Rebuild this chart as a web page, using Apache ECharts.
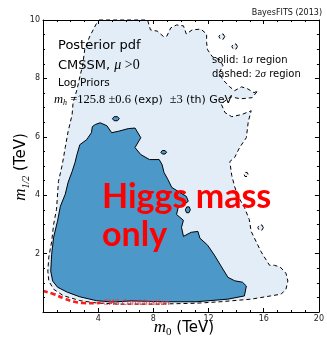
<!DOCTYPE html>
<html>
<head>
<meta charset="utf-8">
<script src="https://cdn.jsdelivr.net/npm/echarts@6/dist/echarts.min.js"></script>
<style>
  html, body { margin: 0; padding: 0; background: #fff; }
  #chart { width: 327px; height: 337px; }
</style>
</head>
<body>
<div id="chart"></div>
<script>
// Axis ranges and tick settings (TeV)
const xRange = [0, 20];
const yRange = [0, 10];
const xTickStep = 4;
const yTickStep = 2;

// 2 sigma credible region boundary, (m0, m1/2) in TeV
const region2sigma = [
  [4.07,10.0],[7.58,10.0],[7.79,9.66],[8.28,9.62],[8.77,9.42],[8.98,9.45],[9.26,9.73],[9.68,9.83],
  [10.18,9.80],[10.39,9.52],[10.81,9.66],[11.44,9.69],[11.86,9.52],[11.86,9.22],[11.93,8.98],
  [12.28,8.74],[12.84,8.63],[13.05,8.43],[12.77,8.19],[13.05,7.95],[13.54,7.71],[13.89,7.58],
  [14.39,7.71],[14.81,7.65],[15.30,7.51],[15.58,7.58],[15.16,7.34],[14.32,7.30],[13.61,7.37],
  [12.91,7.13],[13.19,6.83],[13.68,6.69],[14.39,6.76],[15.09,6.89],[14.88,6.52],[14.74,5.97],
  [14.25,5.63],[13.89,5.29],[13.54,5.15],[13.68,4.68],[13.89,4.30],[14.11,3.99],[14.60,3.58],
  [14.95,3.17],[15.09,2.76],[15.44,2.42],[15.79,2.08],[16.14,1.81],[16.42,1.60],[16.77,1.60],
  [17.19,1.54],[17.61,1.33],[17.75,1.06],[17.61,0.78],[17.26,0.61],[16.49,0.55],[15.09,0.44],
  [12.84,0.35],[11.09,0.30],[8.28,0.27],[5.47,0.27],[3.86,0.31],[2.67,0.39],[1.47,0.56],
  [0.77,0.78],[0.42,1.06],[0.35,1.40],[0.42,1.88],[0.63,2.42],[0.77,3.00],[0.98,3.52],
  [1.12,4.47],[1.40,5.05],[1.61,5.63],[1.82,6.18],[2.11,6.76],[2.18,7.17],[2.46,7.61],
  [2.67,8.05],[2.88,8.46],[3.02,8.98],[3.37,9.42],[3.93,9.93]
];

// Small detached 2 sigma patches
const islands2sigma = [
  [[13.17,9.43],[13.06,9.52],[12.86,9.52],[12.75,9.43],[12.86,9.34],[13.06,9.34]],
  [[14.09,9.09],[13.99,9.18],[13.79,9.18],[13.69,9.09],[13.79,9.00],[13.99,9.00]],
  [[15.97,2.89],[15.87,2.98],[15.67,2.98],[15.57,2.89],[15.67,2.80],[15.87,2.80]],
  [[14.87,4.71],[14.80,4.78],[14.64,4.78],[14.57,4.71],[14.64,4.64],[14.80,4.64]]
];

// 1 sigma credible region boundary
const region1sigma = [
  [3.79,6.42],[4.14,6.48],[4.63,6.38],[4.98,6.14],[5.47,6.19],[6.18,6.28],[6.67,6.30],[7.09,5.97],
  [6.67,5.63],[7.09,5.39],[7.72,5.22],[8.42,5.22],[8.63,5.05],[8.77,4.78],[9.05,4.54],[9.33,4.27],
  [9.89,4.10],[10.39,3.96],[10.53,3.79],[10.25,3.69],[9.82,3.62],[9.68,3.34],[10.18,3.14],
  [10.04,2.90],[10.18,2.59],[10.74,2.73],[11.23,2.76],[11.37,2.53],[11.93,2.29],[12.42,1.95],
  [12.91,1.57],[13.40,1.19],[13.89,1.07],[14.46,1.02],[14.74,0.89],[14.60,0.55],[13.40,0.44],
  [11.09,0.35],[8.77,0.35],[6.39,0.38],[4.98,0.34],[3.86,0.39],[2.67,0.52],[1.75,0.68],
  [1.05,0.85],[0.70,1.06],[0.56,1.40],[0.63,1.98],[0.77,2.56],[1.05,3.11],[1.26,3.62],
  [1.61,4.03],[1.82,4.44],[2.11,4.81],[2.32,5.12],[2.46,5.39],[2.67,5.73],[3.16,5.90],
  [3.51,6.14],[3.58,6.35]
];

// Small detached 1 sigma patches
const islands1sigma = [
  [[5.53,6.62],[5.40,6.69],[5.16,6.69],[5.03,6.62],[5.16,6.55],[5.40,6.55]],
  [[8.96,5.47],[8.85,5.53],[8.65,5.53],[8.54,5.47],[8.65,5.41],[8.85,5.41]],
  [[10.68,3.50],[10.60,3.60],[10.42,3.60],[10.32,3.50],[10.40,3.40],[10.58,3.40]]
];

// CMS combined exclusion limit
const cmsM0  = [0.00, 0.79, 1.49, 2.20, 2.90, 3.84, 4.19];
const cmsM12 = [0.72, 0.61, 0.47, 0.36, 0.31, 0.30, 0.32];

const LIGHT = '#e2edf8';
const DARK = '#4b98c9';
const SANS = 'DejaVu Sans';
const SERIF = 'Liberation Serif';
const TEXT_Z = 100;

function regionSeries(points, style, z) {
  return {
    type: 'custom',
    coordinateSystem: 'cartesian2d',
    xAxisIndex: 0,
    yAxisIndex: 0,
    silent: true,
    z: z,
    data: points,
    renderItem: function (params, api) {
      if (params.dataIndex !== 0) return;
      return {
        type: 'polygon',
        shape: { points: points.map(function (p) { return api.coord(p); }) },
        style: style
      };
    }
  };
}

const lightStyle = { fill: LIGHT, stroke: '#000', lineWidth: 1, lineDash: [4, 3] };
const darkStyle = { fill: DARK, stroke: '#000', lineWidth: 1 };

const series = [];
series.push(regionSeries(region2sigma, lightStyle, 2));
islands2sigma.forEach(function (p) { series.push(regionSeries(p, lightStyle, 2)); });
series.push(regionSeries(region1sigma, darkStyle, 3));
islands1sigma.forEach(function (p) { series.push(regionSeries(p, darkStyle, 3)); });
series.push({
  type: 'line',
  data: cmsM0.map(function (x, i) { return [x, cmsM12[i]]; }),
  showSymbol: false,
  symbol: 'none',
  smooth: true,
  silent: true,
  z: 4,
  lineStyle: { color: '#ff1a1a', width: 2.6, type: [5, 3] }
});

function axisCommon(extra) {
  return Object.assign({
    type: 'value',
    z: 10,
    splitLine: { show: false },
    axisLine: { show: true, onZero: false, lineStyle: { color: '#000', width: 1 } },
    axisTick: { show: true, inside: true, length: 4, lineStyle: { color: '#000', width: 1 } },
    minorTick: { show: true, splitNumber: 0, length: 2, lineStyle: { color: '#000', width: 1 } },
    axisLabel: { show: true, showMinLabel: false, fontSize: 8, color: '#222', fontFamily: SANS }
  }, extra);
}

const xAxes = ['bottom', 'top'].map(function (pos) {
  const a = axisCommon({ position: pos, min: xRange[0], max: xRange[1], interval: xTickStep });
  a.minorTick.splitNumber = 4;
  a.axisLabel = Object.assign({}, a.axisLabel, { margin: 3, show: pos === 'bottom' });
  return a;
});
const yAxes = ['left', 'right'].map(function (pos) {
  const a = axisCommon({ position: pos, min: yRange[0], max: yRange[1], interval: yTickStep });
  a.minorTick.splitNumber = 4;
  a.axisLabel = Object.assign({}, a.axisLabel, { margin: 3, show: pos === 'left' });
  return a;
});

const graphic = [
  { type: 'text', x: 322, y: 13, style: { text: 'BayesFITS (2013)', fill: '#111', fontSize: 8, fontFamily: SANS, align: 'right', verticalAlign: 'middle' } },
  { type: 'text', x: 58, y: 45.5, style: { text: 'Posterior pdf', fill: '#000', fontSize: 13, fontFamily: SANS, align: 'left', verticalAlign: 'middle' } },
  { type: 'text', x: 58, y: 65.5, style: {
      text: '{s|CMSSM, }{mu|μ}{m| >0}', align: 'left', verticalAlign: 'middle',
      rich: {
        s: { fontSize: 13, fontFamily: SANS, fill: '#000' },
        mu: { fontSize: 14, fontFamily: SERIF, fontStyle: 'italic', fill: '#000' },
        m: { fontSize: 14, fontFamily: SERIF, fill: '#000' }
      } } },
  { type: 'text', x: 58, y: 83.5, style: { text: 'Log Priors', fill: '#000', fontSize: 10.5, fontFamily: SANS, align: 'left', verticalAlign: 'middle' } },
  { type: 'text', x: 54, y: 99.7, style: {
      text: '{mi|m}{sub|h}{m| =125.8 ±0.6 }{s|(exp)  }{m|±3 }{s|(th) GeV}', align: 'left', verticalAlign: 'middle',
      rich: {
        mi: { fontSize: 12.5, fontFamily: SERIF, fontStyle: 'italic', fill: '#000', lineHeight: 15, verticalAlign: 'middle' },
        sub: { fontSize: 8, fontFamily: SERIF, fontStyle: 'italic', fill: '#000', lineHeight: 15, verticalAlign: 'bottom' },
        m: { fontSize: 12.5, fontFamily: SERIF, fill: '#000', lineHeight: 15, verticalAlign: 'middle' },
        s: { fontSize: 11, fontFamily: SANS, fill: '#000', lineHeight: 15, verticalAlign: 'middle' }
      } } },
  { type: 'text', x: 212, y: 60.3, style: {
      text: '{s|solid: }{m|1}{mi|σ}{s| region}', align: 'left', verticalAlign: 'middle',
      rich: {
        s: { fontSize: 10, fontFamily: SANS, fill: '#000' },
        m: { fontSize: 11, fontFamily: SERIF, fill: '#000' },
        mi: { fontSize: 11, fontFamily: SERIF, fontStyle: 'italic', fill: '#000' }
      } } },
  { type: 'text', x: 212, y: 74.3, style: {
      text: '{s|dashed: }{m|2}{mi|σ}{s| region}', align: 'left', verticalAlign: 'middle',
      rich: {
        s: { fontSize: 10, fontFamily: SANS, fill: '#000' },
        m: { fontSize: 11, fontFamily: SERIF, fill: '#000' },
        mi: { fontSize: 11, fontFamily: SERIF, fontStyle: 'italic', fill: '#000' }
      } } },
  { type: 'text', x: 102, y: 197, style: { text: 'Higgs mass', fill: '#ff0000', fontSize: 34, fontWeight: 'bold', fontFamily: 'Lato', align: 'left', verticalAlign: 'middle' } },
  { type: 'text', x: 102, y: 235.5, style: { text: 'only', fill: '#ff0000', fontSize: 34, fontWeight: 'bold', fontFamily: 'Lato', align: 'left', verticalAlign: 'middle' } },
  { type: 'text', x: 103, y: 303, style: { text: 'CMS Combination', fill: '#ff2020', fontSize: 7.5, fontFamily: SANS, align: 'left', verticalAlign: 'middle' } },
  // axis titles
  { type: 'text', x: 184, y: 328, style: {
      text: '{mi|m}{sub|0}{s| (TeV)}', align: 'center', verticalAlign: 'middle',
      rich: {
        mi: { fontSize: 17, fontFamily: SERIF, fontStyle: 'italic', fill: '#000', lineHeight: 20, verticalAlign: 'middle' },
        sub: { fontSize: 11, fontFamily: SERIF, fill: '#000', lineHeight: 20, verticalAlign: 'bottom' },
        s: { fontSize: 15, fontFamily: SANS, fill: '#000', lineHeight: 20, verticalAlign: 'middle' }
      } } },
  { type: 'text', x: 21, y: 167, rotation: Math.PI / 2, style: {
      text: '{mi|m}{sub|1/2}{s| (TeV)}', align: 'center', verticalAlign: 'middle',
      rich: {
        mi: { fontSize: 17, fontFamily: SERIF, fontStyle: 'italic', fill: '#000', lineHeight: 20, verticalAlign: 'middle' },
        sub: { fontSize: 10, fontFamily: SERIF, fontStyle: 'italic', fill: '#000', lineHeight: 20, verticalAlign: 'bottom' },
        s: { fontSize: 15, fontFamily: SANS, fill: '#000', lineHeight: 20, verticalAlign: 'middle' }
      } } }
].map(function (el) { return Object.assign({ z: TEXT_Z, silent: true }, el); });

const chart = echarts.init(document.getElementById('chart'), null, { renderer: 'canvas' });
chart.setOption({
  animation: false,
  backgroundColor: '#fff',
  grid: { left: 43, right: 1, top: 20, bottom: 25, containLabel: false },
  xAxis: xAxes,
  yAxis: yAxes,
  series: series,
  graphic: { elements: graphic }
});
</script>
</body>
</html>
